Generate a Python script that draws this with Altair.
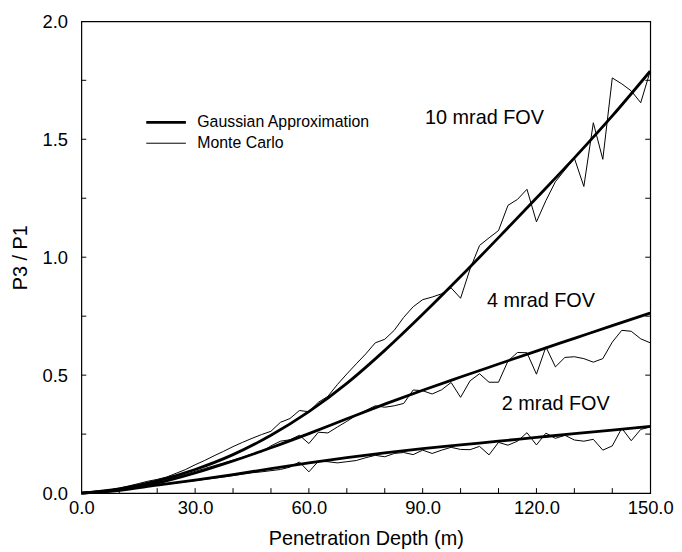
import altair as alt
import pandas as pd

# ---- Gaussian approximation curves (read every 10 m) ----
depth_g = [0, 10, 20, 30, 40, 50, 60, 70, 80, 90, 100, 110, 120, 130, 140, 150]
g10 = [0.0, 0.018, 0.052, 0.10, 0.163, 0.245, 0.345, 0.465, 0.605, 0.758, 0.918, 1.083, 1.251, 1.421, 1.599, 1.789]
g4 = [0.0, 0.014, 0.042, 0.085, 0.136, 0.192, 0.252, 0.315, 0.377, 0.436, 0.492, 0.547, 0.602, 0.656, 0.71, 0.763]
g2 = [0.0, 0.012, 0.034, 0.055, 0.078, 0.104, 0.128, 0.15, 0.17, 0.188, 0.204, 0.22, 0.236, 0.252, 0.267, 0.283]

# ---- Monte Carlo curves (read every 2.5 m) ----
depth_mc = [0, 2.5, 5, 7.5, 10, 12.5, 15, 17.5, 20, 22.5, 25, 27.5, 30, 32.5, 35, 37.5,
            40, 42.5, 45, 47.5, 50, 52.5, 55, 57.5, 60, 62.5, 65, 67.5, 70, 72.5, 75, 77.5,
            80, 82.5, 85, 87.5, 90, 92.5, 95, 97.5, 100, 102.5, 105, 107.5, 110, 112.5, 115,
            117.5, 120, 122.5, 125, 127.5, 130, 132.5, 135, 137.5, 140, 142.5, 145, 147.5, 150]
mc10 = [0.0, 0.003, 0.008, 0.014, 0.021, 0.03, 0.04, 0.05, 0.058, 0.068, 0.084, 0.1, 0.12, 0.138,
        0.158, 0.177, 0.197, 0.215, 0.232, 0.248, 0.262, 0.3, 0.316, 0.35, 0.345, 0.385, 0.41,
        0.46, 0.505, 0.548, 0.59, 0.637, 0.652, 0.69, 0.745, 0.79, 0.82, 0.831, 0.845, 0.87,
        0.826, 0.95, 1.05, 1.082, 1.113, 1.22, 1.245, 1.288, 1.15, 1.24, 1.32, 1.37, 1.42, 1.30,
        1.57, 1.415, 1.76, 1.735, 1.705, 1.655, 1.789]
mc4 = [0.0, 0.002, 0.006, 0.012, 0.018, 0.025, 0.033, 0.042, 0.05, 0.058, 0.068, 0.08, 0.092, 0.104,
       0.116, 0.128, 0.14, 0.152, 0.166, 0.175, 0.2, 0.22, 0.226, 0.245, 0.21, 0.258, 0.255, 0.28,
       0.304, 0.33, 0.35, 0.37, 0.364, 0.37, 0.38, 0.437, 0.434, 0.42, 0.438, 0.469, 0.406, 0.476,
       0.506, 0.47, 0.47, 0.56, 0.596, 0.595, 0.504, 0.62, 0.535, 0.575, 0.578, 0.57, 0.555, 0.57,
       0.64, 0.69, 0.686, 0.654, 0.637]
mc2 = [0.0, 0.002, 0.005, 0.009, 0.013, 0.018, 0.023, 0.028, 0.033, 0.038, 0.043, 0.048, 0.053, 0.058,
       0.063, 0.068, 0.074, 0.08, 0.086, 0.09, 0.095, 0.1, 0.11, 0.132, 0.09, 0.135, 0.133, 0.128,
       0.133, 0.138, 0.15, 0.16, 0.154, 0.168, 0.172, 0.163, 0.182, 0.168, 0.182, 0.194, 0.185,
       0.184, 0.198, 0.162, 0.215, 0.203, 0.22, 0.256, 0.204, 0.254, 0.232, 0.245, 0.225, 0.22,
       0.228, 0.182, 0.2, 0.275, 0.222, 0.27, 0.28]

# ---- annotations ----
fov_text = ["10 mrad FOV", "4 mrad FOV", "2 mrad FOV"]
fov_x = [106.3, 121.2, 125.1]
fov_y = [1.59, 0.812, 0.378]

x_ticks_major = [0, 30, 60, 90, 120, 150]
x_ticks_minor = [10, 20, 30, 40, 50, 60, 70, 80, 90, 100, 110, 120, 130, 140]
y_ticks_major = [0.0, 0.5, 1.0, 1.5, 2.0]
y_ticks_minor = [0.25, 0.5, 0.75, 1.0, 1.25, 1.5, 1.75]

KIND_G = "Gaussian Approximation"
KIND_M = "Monte Carlo"

gdf = pd.concat([
    pd.DataFrame({"depth": depth_g, "val": v, "series": s, "kind": KIND_G})
    for v, s in [(g10, "G10"), (g4, "G4"), (g2, "G2")]
])
mdf = pd.concat([
    pd.DataFrame({"depth": depth_mc, "val": v, "series": s, "kind": KIND_M})
    for v, s in [(mc10, "M10"), (mc4, "M4"), (mc2, "M2")]
])
tdf = pd.DataFrame({"label": fov_text, "x": fov_x, "y": fov_y})
xt = pd.DataFrame({"t": x_ticks_minor})
yt = pd.DataFrame({"t": y_ticks_minor})

W, H = 574, 476
FONT = "Liberation Sans"

xscale = alt.Scale(domain=[0, 150], nice=False, zero=False)
yscale = alt.Scale(domain=[0, 2], nice=False)

X = alt.X("depth:Q", scale=xscale,
          axis=alt.Axis(values=x_ticks_major, format=".1f", ticks=False, domain=False, grid=False,
                        labelPadding=6, title="Penetration Depth (m)", titlePadding=11,
                        labelFlush=False, labelOverlap=False))
Y = alt.Y("val:Q", scale=yscale,
          axis=alt.Axis(values=y_ticks_major, format=".1f", ticks=False, domain=False, grid=False,
                        labelPadding=14, title="P3 / P1", titlePadding=12,
                        labelFlush=False, labelOverlap=False))

sw = alt.StrokeWidth("kind:N",
                     scale=alt.Scale(domain=[KIND_G, KIND_M], range=[2.8, 1.0]),
                     legend=alt.Legend(orient="none", legendX=64, legendY=94, title=None,
                                       symbolType="stroke", symbolSize=1600,
                                       symbolStrokeColor="black", labelFontSize=16,
                                       labelFont=FONT, labelColor="black", labelOffset=10,
                                       labelLimit=0, clipHeight=16, rowPadding=5))

gauss = alt.Chart(gdf).mark_line(color="black", interpolate="monotone").encode(
    x=X, y=Y, detail="series:N", strokeWidth=sw)
mc = alt.Chart(mdf).mark_line(color="black").encode(
    x=alt.X("depth:Q", scale=xscale), y=alt.Y("val:Q", scale=yscale),
    detail="series:N", strokeWidth=sw)

labels = alt.Chart(tdf).mark_text(font=FONT, fontSize=20, color="black", align="center",
                                  baseline="middle").encode(
    x=alt.X("x:Q", scale=xscale), y=alt.Y("y:Q", scale=yscale), text="label:N")

tick_b = alt.Chart(xt).mark_rule(color="black", strokeWidth=1).encode(
    x=alt.X("t:Q", scale=xscale), y=alt.value(H), y2=alt.value(H - 5))
tick_l = alt.Chart(yt).mark_rule(color="black", strokeWidth=1).encode(
    y=alt.Y("t:Q", scale=yscale), x=alt.value(0), x2=alt.value(5))
tick_r = alt.Chart(yt).mark_rule(color="black", strokeWidth=1).encode(
    y=alt.Y("t:Q", scale=yscale), x=alt.value(W - 5), x2=alt.value(W))

chart = alt.layer(gauss, mc, labels, tick_b, tick_l, tick_r).properties(
    width=W, height=H,
    autosize=alt.AutoSizeParams(type="none"),
    padding={"left": 74, "top": 11, "right": 24, "bottom": 57},
    background="white",
).configure_view(stroke="black", strokeWidth=1.2).configure_axis(
    labelFont=FONT, labelFontSize=18.5, labelColor="black",
    titleFont=FONT, titleFontSize=20, titleFontWeight="normal", titleColor="black",
)

chart.save("out.html", embed_options={"renderer": "svg", "actions": False})
